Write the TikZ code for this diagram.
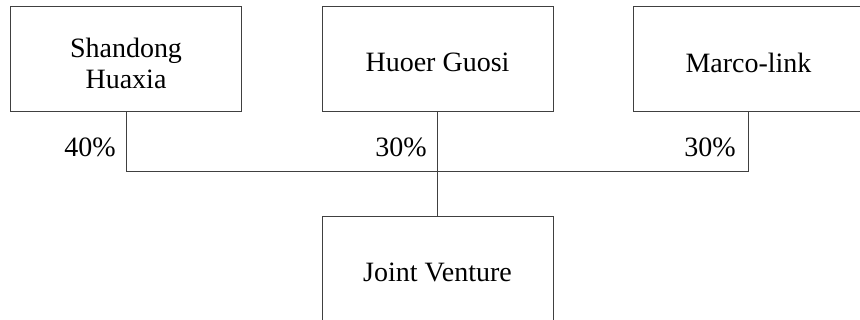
\documentclass[tikz,border=0pt]{standalone}
\usepackage{fontspec}
\setmainfont{Liberation Serif}
\usetikzlibrary{positioning}

\tikzset{
  firm/.style={draw=black!75, line width=0.8pt, minimum width=231pt, minimum height=105pt,
    align=center, text height=27pt, font=\fontsize{28}{31}\selectfont},
  share/.style={anchor=east, inner sep=0pt, font=\fontsize{28}{31}\selectfont},
  link/.style={draw=black!75, line width=0.8pt}
}

\begin{document}
\begin{tikzpicture}[x=1pt,y=1pt]
	\useasboundingbox (0,0) rectangle (860,320);

	% partners
	\node [firm, text height=59pt] (huaxia) at (126,261) {Shandong\\Huaxia};
	\node [firm] (huoer) at (437.5,261.5) {Huoer Guosi};
	\node [firm] (marco) at (748.5,261) {Marco-link};

	% joint venture
	\node [firm] (jv) at (437.5,51.5) {Joint Venture};

	% ownership lines
	\coordinate (bus) at (0,149);
	\draw [link] (huaxia.south) -- (huaxia.south |- bus) -- (marco.south |- bus) -- (marco.south);
	\draw [link] (huoer.south) -- (jv.north);

	\node [share] (p40) at (116,173) {40\%};
	\node [share] (p30a) at (427,173) {30\%};
	\node [share] (p30b) at (736,173) {30\%};
\end{tikzpicture}
\end{document}
